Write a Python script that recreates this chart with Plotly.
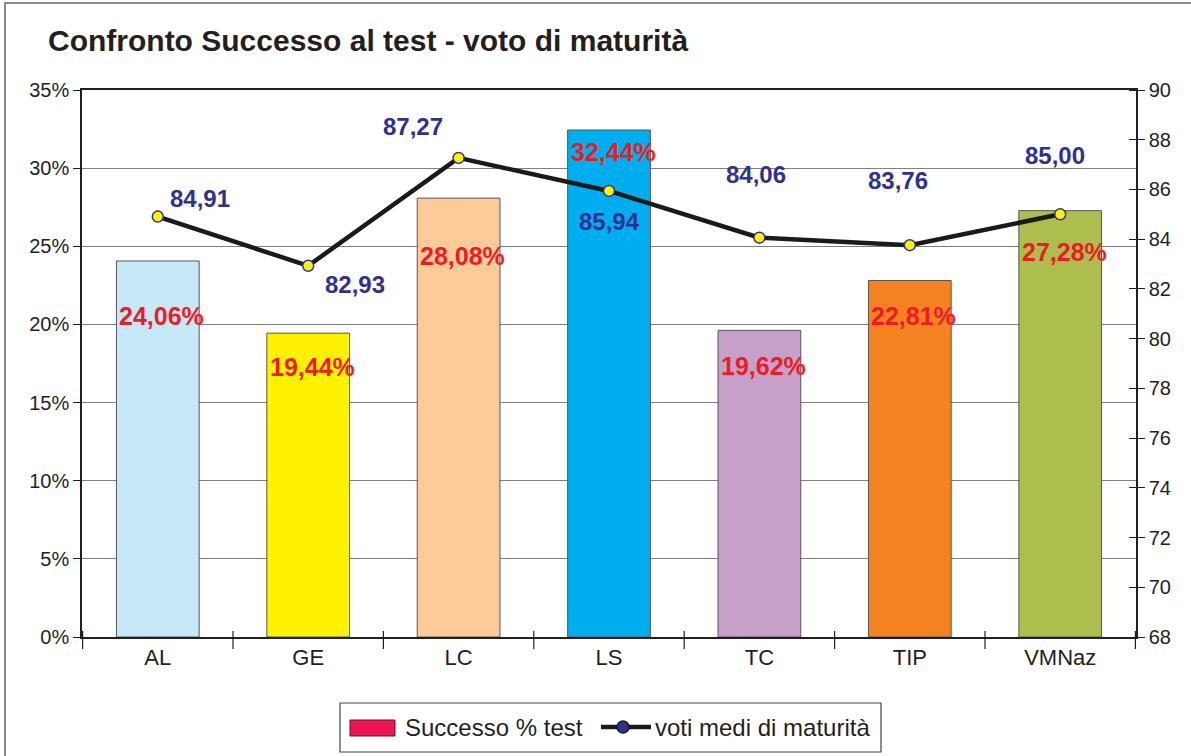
import plotly.graph_objects as go

categories = ["AL", "GE", "LC", "LS", "TC", "TIP", "VMNaz"]
success_pct = [24.06, 19.44, 28.08, 32.44, 19.62, 22.81, 27.28]
voti_medi = [84.91, 82.93, 87.27, 85.94, 84.06, 83.76, 85.00]
bar_colors = ["#C6E8F8", "#FFF200", "#FDCB99", "#00AEEF", "#C6A0C9", "#F58220", "#ADBE4E"]
left_ticks = [0, 5, 10, 15, 20, 25, 30, 35]
right_ticks = list(range(68, 91, 2))
series_names = ["Successo % test", "voti medi di maturità"]

# label offsets (pixels) for readability, like the original
bar_label_shift = [-55, -34, -58, -22, -36, -35, -41]
line_label_xshift = [42, 47, -46, 0, -3, -12, -5]
line_label_yshift = [18, -19, 31, -31, 63, 65, 59]

FONT = "Liberation Sans, Arial, sans-serif"

# plot area in pixels (for placing decorative legend/frame in paper coords)
PL, PR, PT, PB = 82, 1136, 90, 637
def px(x):
    return (x - PL) / (PR - PL)
def py(y):
    return (PB - y) / (PB - PT)

fig = go.Figure()
fig.add_trace(go.Bar(
    x=categories, y=success_pct, marker=dict(color=bar_colors, line=dict(color="#555555", width=1)),
    width=0.55, showlegend=False, name=series_names[0]))
fig.add_trace(go.Scatter(
    x=categories, y=voti_medi, yaxis="y2", mode="lines+markers",
    line=dict(color="#1a1a1a", width=4.5),
    marker=dict(color="#FFF200", size=11, line=dict(color="#2E3192", width=1.5)),
    name=series_names[1], showlegend=False))

annotations = []
for c, v, s in zip(categories, success_pct, bar_label_shift):
    annotations.append(dict(x=c, y=v, xref="x", yref="y", text="<b>" + f"{v:.2f}".replace(".", ",") + "%</b>",
                            showarrow=False, yshift=s, xshift=4,
                            font=dict(family=FONT, size=25, color="#ED1C24")))
for c, v, xs, ys in zip(categories, voti_medi, line_label_xshift, line_label_yshift):
    annotations.append(dict(x=c, y=v, xref="x", yref="y2", text="<b>" + f"{v:.2f}".replace(".", ",") + "</b>",
                            showarrow=False, xshift=xs, yshift=ys,
                            font=dict(family=FONT, size=24, color="#2E3192")))

# legend texts
annotations.append(dict(x=px(403), y=py(727), xref="paper", yref="paper", xanchor="left", yanchor="middle",
                        text=series_names[0], showarrow=False, font=dict(family=FONT, size=24, color="#231F20")))
annotations.append(dict(x=px(653), y=py(727), xref="paper", yref="paper", xanchor="left", yanchor="middle",
                        text=series_names[1], showarrow=False, font=dict(family=FONT, size=24, color="#231F20")))

shapes = [
    # outer chart frame
    dict(type="rect", xref="paper", yref="paper", x0=px(5), x1=px(1200), y0=py(770), y1=py(3),
         line=dict(color="#666666", width=1.5), layer="below"),
    # legend box
    dict(type="rect", xref="paper", yref="paper", x0=px(340), x1=px(881), y0=py(752), y1=py(703),
         line=dict(color="#444444", width=1.2), fillcolor="white"),
    # legend swatch for bars
    dict(type="rect", xref="paper", yref="paper", x0=px(350), x1=px(395), y0=py(736), y1=py(720),
         line=dict(color="#6d1030", width=1), fillcolor="#EE1652"),
    # legend line sample
    dict(type="line", xref="paper", yref="paper", x0=px(601), x1=px(651), y0=py(727), y1=py(727),
         line=dict(color="#1a1a1a", width=4.5)),
    dict(type="circle", xref="paper", yref="paper", x0=px(617), x1=px(629), y0=py(733), y1=py(721),
         line=dict(color="#1a1a1a", width=1.5), fillcolor="#2E3192"),
] + [
    # category separator ticks crossing the x axis
    dict(type="line", xref="x", yref="paper", x0=i + 0.5, x1=i + 0.5, y0=py(PB - 6), y1=py(PB + 12),
         line=dict(color="#231F20", width=1.2))
    for i in range(-1, len(categories))
]

fig.update_layout(
    width=1191, height=756,
    margin=dict(l=PL, r=1191 - PR, t=PT, b=756 - PB),
    paper_bgcolor="white", plot_bgcolor="white",
    font=dict(family=FONT, size=20, color="#231F20"),
    showlegend=False,
    title=dict(text="<b>Confronto Successo al test - voto di maturità</b>",
               x=48/1191, xanchor="left", y=1-40/756, yanchor="middle",
               font=dict(family=FONT, size=30, color="#231F20"), automargin=False),
    bargap=0.45,
    xaxis=dict(showline=True, linecolor="#231F20", linewidth=1.5, mirror=True,
               ticks="outside", ticklen=0, tickfont=dict(size=22),
               showgrid=False, zeroline=False, automargin=False),
    yaxis=dict(range=[0, 35], tickvals=left_ticks, ticktext=[f"{t}%" for t in left_ticks],
               showline=True, linecolor="#231F20", linewidth=1.5, ticks="outside", ticklen=7,
               tickcolor="#231F20", showgrid=True, gridcolor="#808080", gridwidth=1.2,
               zeroline=False, tickfont=dict(size=20), automargin=False),
    yaxis2=dict(range=[68, 90], tickvals=right_ticks, overlaying="y", side="right",
                showline=True, linecolor="#231F20", linewidth=1.5, ticks="outside", ticklen=7,
                tickcolor="#231F20", showgrid=False, zeroline=False, tickfont=dict(size=20),
                automargin=False,
                minor=dict(ticks="inside", tick0=68, dtick=2, ticklen=7, tickcolor="#231F20",
                           showgrid=False)),
    annotations=annotations,
    shapes=shapes,
)

fig.write_html("out.html", config={"displayModeBar": False},
               post_script="document.body.style.margin='0';document.body.style.padding='0';")
